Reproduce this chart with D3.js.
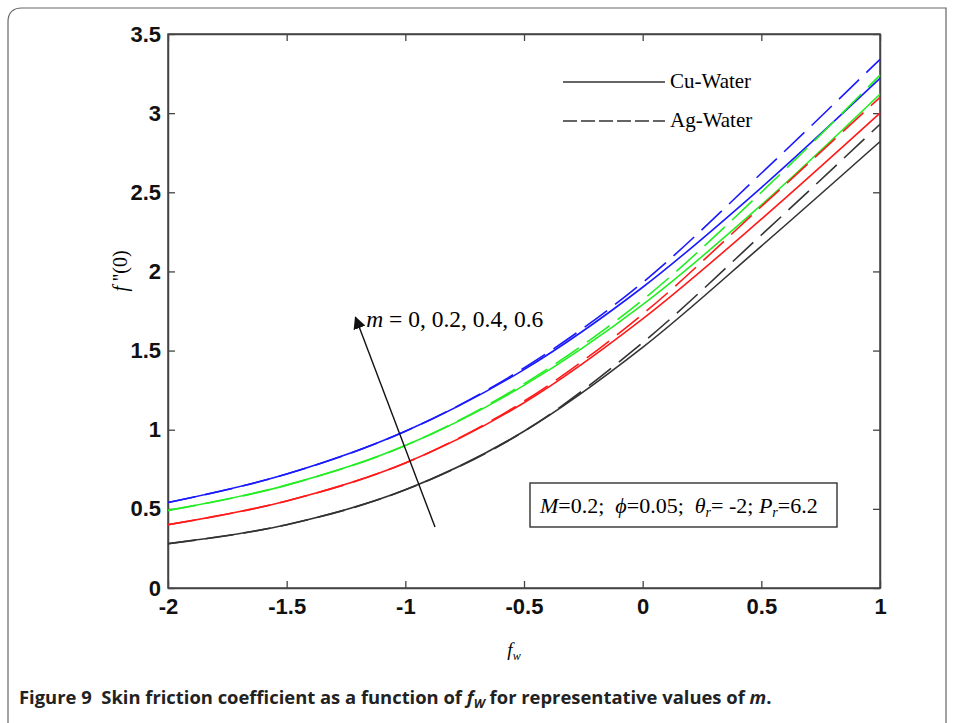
<!DOCTYPE html>
<html>
<head>
<meta charset="utf-8">
<script src="https://cdn.jsdelivr.net/npm/d3@7"></script>
<style>
  body { margin: 0; background: #fff; }
  svg { display: block; }
  text { white-space: pre; }
</style>
</head>
<body>
<script>
var fwValues = [-2, -1.5, -1, -0.5, 0, 0.5, 1];

// Cu-Water (solid)
var cuM0  = [0.28, 0.40, 0.62, 0.99, 1.52, 2.16, 2.82];
var cuM02 = [0.40, 0.55, 0.79, 1.17, 1.70, 2.33, 3.00];
var cuM04 = [0.49, 0.65, 0.90, 1.28, 1.79, 2.42, 3.12];
var cuM06 = [0.54, 0.72, 0.99, 1.38, 1.90, 2.53, 3.22];

// Ag-Water (dashed)
var agM0  = [0.28, 0.40, 0.62, 0.99, 1.55, 2.23, 2.93];
var agM02 = [0.40, 0.55, 0.79, 1.18, 1.73, 2.41, 3.10];
var agM04 = [0.49, 0.65, 0.90, 1.29, 1.82, 2.50, 3.24];
var agM06 = [0.54, 0.72, 0.99, 1.39, 1.93, 2.62, 3.34];

var xTicks = [-2, -1.5, -1, -0.5, 0, 0.5, 1];
var yTicks = [0, 0.5, 1, 1.5, 2, 2.5, 3, 3.5];

var colores = ["#333333", "#ff1a1a", "#22ee22", "#1a1aff"];

var series = [
  { valores: cuM0, color: colores[0], dash: null },
  { valores: cuM02, color: colores[1], dash: null },
  { valores: cuM04, color: colores[2], dash: null },
  { valores: cuM06, color: colores[3], dash: null },
  { valores: agM0, color: colores[0], dash: "28,10" },
  { valores: agM02, color: colores[1], dash: "28,10" },
  { valores: agM04, color: colores[2], dash: "28,10" },
  { valores: agM06, color: colores[3], dash: "28,10" }
];

var ancho = 955, altura = 723;
var izq = 168, der = 880, sup = 34, inf = 588;

var svg = d3.select("body").append("svg")
  .attr("width", ancho)
  .attr("height", altura);

// figure frame (rounded top-left)
svg.append("path")
  .attr("d", "M946,740 L946,8 L22,8 Q8,8 8,22 L8,740")
  .attr("fill", "none")
  .attr("stroke", "#666")
  .attr("stroke-width", 1.2);

var x = d3.scaleLinear().domain([-2, 1]).range([izq, der]);
var y = d3.scaleLinear().domain([0, 3.5]).range([inf, sup]);

var fmt = function (d) { return String(d); };

svg.append("g")
  .attr("transform", "translate(0," + inf + ")")
  .call(d3.axisBottom(x).tickValues(xTicks).tickFormat(fmt).tickSizeInner(-7).tickSizeOuter(0).tickPadding(10));
svg.append("g")
  .attr("transform", "translate(" + izq + ",0)")
  .call(d3.axisLeft(y).tickValues(yTicks).tickFormat(fmt).tickSizeInner(-7).tickSizeOuter(0).tickPadding(7));
svg.append("g")
  .attr("transform", "translate(0," + sup + ")")
  .call(d3.axisTop(x).tickValues(xTicks).tickFormat("").tickSizeInner(-7).tickSizeOuter(0));
svg.append("g")
  .attr("transform", "translate(" + der + ",0)")
  .call(d3.axisRight(y).tickValues(yTicks).tickFormat("").tickSizeInner(-7).tickSizeOuter(0));

svg.selectAll(".domain").attr("stroke", "#444").attr("stroke-width", 1.5);
svg.selectAll(".tick line").attr("stroke", "#444").attr("stroke-width", 1.3);
svg.selectAll(".tick text")
  .style("font-family", "Liberation Sans, Arial, sans-serif")
  .style("font-weight", "bold")
  .style("font-size", "22px")
  .attr("fill", "#111");

// plot box
svg.append("rect")
  .attr("x", izq).attr("y", sup)
  .attr("width", der - izq).attr("height", inf - sup)
  .attr("fill", "none").attr("stroke", "#444").attr("stroke-width", 1.5);

var linea = d3.line()
  .x(function (d, i) { return x(fwValues[i]); })
  .y(function (d) { return y(d); })
  .curve(d3.curveMonotoneX);

series.forEach(function (s) {
  svg.append("path")
    .datum(s.valores)
    .attr("d", linea)
    .attr("fill", "none")
    .attr("stroke", s.color)
    .attr("stroke-width", 1.6)
    .attr("stroke-dasharray", s.dash);
});

// legend
var serif = "Liberation Serif, Times New Roman, serif";
[["Cu-Water", null, 82], ["Ag-Water", "14,4", 121]].forEach(function (l) {
  svg.append("line")
    .attr("x1", 563).attr("x2", 665).attr("y1", l[2]).attr("y2", l[2])
    .attr("stroke", "#333").attr("stroke-width", 1.4)
    .attr("stroke-dasharray", l[1]);
  svg.append("text")
    .attr("x", 670).attr("y", l[2] + 6)
    .style("font-family", serif).style("font-size", "21px")
    .text(l[0]);
});

// arrow for m
svg.append("defs").append("marker")
  .attr("id", "punta")
  .attr("viewBox", "0 0 10 10")
  .attr("refX", 9).attr("refY", 5)
  .attr("markerWidth", 9).attr("markerHeight", 9)
  .attr("orient", "auto")
  .append("path").attr("d", "M0,0 L10,5 L0,10 z").attr("fill", "#111");

svg.append("line")
  .attr("x1", x(-0.875)).attr("y1", y(0.385))
  .attr("x2", x(-1.21)).attr("y2", y(1.71))
  .attr("stroke", "#111").attr("stroke-width", 1.4)
  .attr("marker-end", "url(#punta)");

var etiquetaM = svg.append("text")
  .attr("x", x(-1.165)).attr("y", y(1.65))
  .style("font-family", serif).style("font-size", "23.5px");
etiquetaM.append("tspan").style("font-style", "italic").text("m");
etiquetaM.append("tspan").text(" = 0, 0.2, 0.4, 0.6");

// parameter box
svg.append("rect")
  .attr("x", 530).attr("y", 483).attr("width", 307).attr("height", 44)
  .attr("fill", "#fff").attr("stroke", "#333").attr("stroke-width", 1.4);
var param = svg.append("text")
  .attr("x", 540).attr("y", 513)
  .style("font-family", serif).style("font-size", "22px");
param.append("tspan").style("font-style", "italic").text("M");
param.append("tspan").text("=0.2;  ");
param.append("tspan").style("font-style", "italic").text("ϕ");
param.append("tspan").text("=0.05;  ");
param.append("tspan").style("font-style", "italic").text("θ");
param.append("tspan").style("font-style", "italic").style("font-size", "14px").attr("dy", 4).text("r");
param.append("tspan").attr("dy", -4).text("= -2; ");
param.append("tspan").style("font-style", "italic").text("P");
param.append("tspan").style("font-style", "italic").style("font-size", "14px").attr("dy", 4).text("r");
param.append("tspan").attr("dy", -4).text("=6.2");

// axis titles
var yTitulo = svg.append("text")
  .attr("transform", "translate(127," + ((sup + inf) / 2 - 40) + ") rotate(-90)")
  .attr("text-anchor", "middle")
  .style("font-family", serif).style("font-size", "20px");
yTitulo.append("tspan").style("font-style", "italic").text("f");
yTitulo.append("tspan").text(" ''(0)");

var xTitulo = svg.append("text")
  .attr("x", (izq + der) / 2 - 10).attr("y", 656)
  .attr("text-anchor", "middle")
  .style("font-family", serif).style("font-size", "19px").style("font-style", "italic");
xTitulo.append("tspan").text("f");
xTitulo.append("tspan").attr("dy", 4).style("font-size", "12px").text("w");

// caption
var cap = svg.append("text")
  .attr("x", 19).attr("y", 704)
  .style("font-family", "Open Sans, Noto Sans, sans-serif")
  .style("font-size", "18.4px").style("font-weight", "bold").attr("fill", "#222");
cap.append("tspan").text("Figure 9  Skin friction coefficient as a function of ");
cap.append("tspan").style("font-style", "italic").text("f");
cap.append("tspan").style("font-style", "italic").style("font-size", "12.5px").attr("dy", 4).text("W");
cap.append("tspan").attr("dy", -4).text(" for representative values of ");
cap.append("tspan").style("font-style", "italic").text("m");
cap.append("tspan").text(".");
</script>
</body>
</html>
